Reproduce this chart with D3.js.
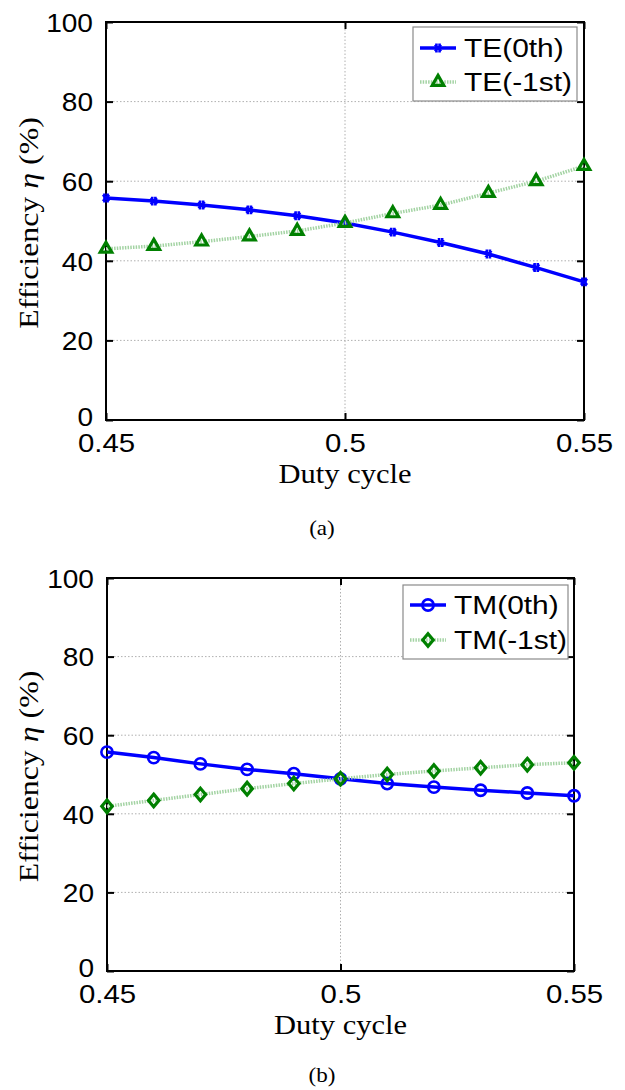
<!DOCTYPE html>
<meta charset="utf-8">
<style>
  body { margin: 0; background: #fff; }
  svg text { fill: #000; }
  .tick-lbl { font-family: "Liberation Sans", Arial, sans-serif; font-size: 24px; }
  .ser { font-family: "Liberation Serif", "Times New Roman", serif; }
</style>
<div id="fig"></div>
<script src="https://cdn.jsdelivr.net/npm/d3@7"></script>
<script>
// duty cycle samples
var dutyCycle = [0.45, 0.46, 0.47, 0.48, 0.49, 0.50, 0.51, 0.52, 0.53, 0.54, 0.55];

// (a) TE efficiencies (%)
var te0th  = [55.8, 55.0, 54.0, 52.8, 51.3, 49.5, 47.2, 44.6, 41.7, 38.3, 34.7];
var teM1st = [43.0, 43.7, 44.8, 46.1, 47.5, 49.5, 51.9, 54.0, 57.0, 60.0, 63.8];

// (b) TM efficiencies (%)
var tm0th  = [55.7, 54.3, 52.7, 51.3, 50.2, 48.9, 47.7, 46.8, 46.0, 45.3, 44.6];
var tmM1st = [41.9, 43.4, 44.9, 46.4, 47.7, 48.9, 50.0, 50.9, 51.7, 52.5, 53.0];

var xTicks = [0.45, 0.5, 0.55];
var xTickLabels = ["0.45", "0.5", "0.55"];
var yTicks = [0, 20, 40, 60, 80, 100];
var yTickLabels = ["0", "20", "40", "60", "80", "100"];

var svg = d3.select("#fig").append("svg").attr("width", 625).attr("height", 1090);

// diamond marker, a bit taller than wide
var tallDiamond = {
  draw: function(ctx, size) {
    var w = Math.sqrt(size) * 0.5, h = w * 1.2;
    ctx.moveTo(0, -h); ctx.lineTo(w, 0); ctx.lineTo(0, h); ctx.lineTo(-w, 0); ctx.closePath();
  }
};

// MATLAB '*' marker: x with a vertical bar
var starMark = {
  draw: function(ctx, size) {
    var r = Math.sqrt(size) * 0.5;
    ctx.moveTo(-r * 0.7, -r * 0.7); ctx.lineTo(r * 0.7, r * 0.7);
    ctx.moveTo(-r * 0.7, r * 0.7); ctx.lineTo(r * 0.7, -r * 0.7);
    ctx.moveTo(-r * 0.35, -r); ctx.lineTo(-r * 0.35, r);
    ctx.moveTo(r * 0.35, -r); ctx.lineTo(r * 0.35, r);
  }
};

// stretch text horizontally, MATLAB export looks wider than Arial
function stretch(sel, k) {
  sel.each(function() {
    var len = this.getComputedTextLength();
    d3.select(this).attr("textLength", len * k).attr("lengthAdjust", "spacingAndGlyphs");
  });
}

makePanel({
  box: {left: 106, right: 584, top: 22, bottom: 420},
  series: [
    {name: "TE(0th)", values: te0th, kind: "blue", symbol: starMark, size: 80},
    {name: "TE(-1st)", values: teM1st, kind: "green", symbol: d3.symbolTriangle2, size: 95}
  ],
  legend: {x: 413, y: 27, w: 164, h: 74, rows: [48, 82]},
  tag: "(a)", tagY: 535
});

makePanel({
  box: {left: 107, right: 574, top: 578, bottom: 971},
  series: [
    {name: "TM(0th)", values: tm0th, kind: "blue", symbol: d3.symbolCircle, size: 100},
    {name: "TM(-1st)", values: tmM1st, kind: "green", symbol: tallDiamond, size: 110}
  ],
  legend: {x: 403, y: 585, w: 165, h: 74, rows: [605, 640]},
  tag: "(b)", tagY: 1082
});

function makePanel(o) {
  var b = o.box;
  var x = d3.scaleLinear().domain([0.45, 0.55]).range([b.left, b.right]);
  var y = d3.scaleLinear().domain([0, 100]).range([b.bottom, b.top]);
  var g = svg.append("g");

  // dotted grid
  var grid = g.append("g").attr("stroke", "#b0b0b0").attr("stroke-width", 1).attr("stroke-dasharray", "1.5,2");
  grid.selectAll("line.gy").data(yTicks.slice(1, -1)).enter().append("line")
    .attr("x1", b.left).attr("x2", b.right).attr("y1", d => y(d)).attr("y2", d => y(d));
  grid.selectAll("line.gx").data(xTicks.slice(1, -1)).enter().append("line")
    .attr("y1", b.top).attr("y2", b.bottom).attr("x1", d => x(d)).attr("x2", d => x(d));

  // axes with inward ticks on all four sides
  var tl = 7;
  var axL = g.append("g").attr("transform", "translate(" + b.left + ",0)")
    .call(d3.axisLeft(y).tickValues(yTicks).tickSize(-tl).tickPadding(6 + tl).tickFormat((d, i) => yTickLabels[i]));
  var axR = g.append("g").attr("transform", "translate(" + b.right + ",0)")
    .call(d3.axisRight(y).tickValues(yTicks).tickSize(-tl).tickFormat(""));
  var axB = g.append("g").attr("transform", "translate(0," + b.bottom + ")")
    .call(d3.axisBottom(x).tickValues(xTicks).tickSize(-tl).tickPadding(4 + tl).tickFormat((d, i) => xTickLabels[i]));
  var axT = g.append("g").attr("transform", "translate(0," + b.top + ")")
    .call(d3.axisTop(x).tickValues(xTicks).tickSize(-tl).tickFormat(""));
  [axL, axR, axB, axT].forEach(function(a) {
    a.select(".domain").remove();
    a.selectAll("line").attr("stroke", "#000").attr("stroke-width", 2);
    a.selectAll("text").attr("class", "tick-lbl").attr("fill", "#000").attr("font-size", null).attr("font-family", null);
  });
  axL.selectAll("text").attr("dy", "0.36em").style("font-size", "26px");
  // the "0" sits just above the 0.45 label, MATLAB style
  axL.selectAll("text").filter(d => d === 0).attr("dy", "0.2em");
  axB.selectAll("text").attr("dy", "0.8em").style("font-size", "26px");
  stretch(axL.selectAll("text"), 1.08);
  stretch(axB.selectAll("text"), 1.13);

  // frame
  g.append("rect").attr("x", b.left).attr("y", b.top)
    .attr("width", b.right - b.left).attr("height", b.bottom - b.top)
    .attr("fill", "none").attr("stroke", "#000").attr("stroke-width", 2);

  // axis titles
  var xt = g.append("text").attr("class", "ser")
    .attr("x", (b.left + b.right) / 2).attr("y", b.bottom + 63)
    .attr("text-anchor", "middle").style("font-size", "27px").text("Duty cycle");
  stretch(xt, 1.13);

  var yt = g.append("text").attr("class", "ser")
    .attr("transform", "translate(38," + ((b.top + b.bottom) / 2 + 2) + ") rotate(-90)")
    .attr("text-anchor", "middle").style("font-size", "27px");
  yt.append("tspan").text("Efficiency ");
  yt.append("tspan").attr("font-style", "italic").text("\u03B7");
  yt.append("tspan").text(" (%)");
  stretch(yt, 1.18);

  // panel tag
  var tg = g.append("text").attr("class", "ser").attr("x", 322).attr("y", o.tagY)
    .attr("text-anchor", "middle").style("font-size", "21px").text(o.tag);
  stretch(tg, 1.1);

  // lines + markers
  var line = d3.line().x((d, i) => x(dutyCycle[i])).y(d => y(d));
  o.series.forEach(function(s) {
    drawLine(g, s, s.values.map((v, i) => [x(dutyCycle[i]), y(v)]), line(s.values));
  });

  // legend
  var L = o.legend;
  var lg = g.append("g");
  lg.append("rect").attr("x", L.x).attr("y", L.y).attr("width", L.w).attr("height", L.h)
    .attr("fill", "#fff").attr("stroke", "#8a8a8a").attr("stroke-width", 1.2);
  o.series.forEach(function(s, i) {
    var ly = L.rows[i];
    var x0 = L.x + 7, x1 = L.x + 43;
    drawLine(lg, s, [[(x0 + x1) / 2, ly]], "M" + x0 + "," + ly + "H" + x1);
    var t = lg.append("text").attr("class", "tick-lbl").attr("x", L.x + 51).attr("y", ly)
      .attr("dy", "0.36em").style("font-size", "26px").text(s.name);
    stretch(t, 1.15);
  });
}

function drawLine(g, s, pts, path) {
  var blue = s.kind === "blue";
  g.append("path").attr("d", path).attr("fill", "none")
    .attr("stroke", blue ? "#0000ff" : "#a3d3a3")
    .attr("stroke-width", 3.5)
    .attr("stroke-dasharray", blue ? null : "1.5,1.2");
  var sym = d3.symbol().type(s.symbol).size(s.size);
  g.selectAll(null).data(pts).enter().append("path")
    .attr("transform", d => "translate(" + d[0] + "," + d[1] + ")")
    .attr("d", sym)
    .attr("fill", "none")
    .attr("stroke", blue ? "#0000ff" : "#008000")
    .attr("stroke-width", blue ? 2.6 : 3.2);
}
</script>
